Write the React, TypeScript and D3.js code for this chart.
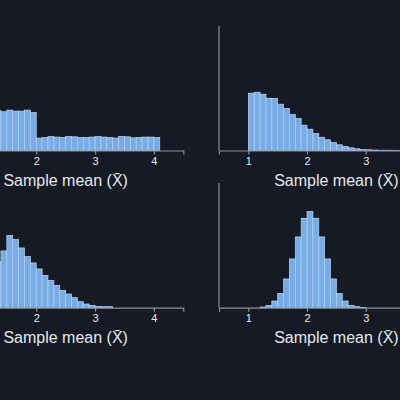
import React, { useEffect, useRef } from 'react';
import * as d3 from 'd3';

// ---- data ----
const binWidth = 0.1;
const xDomain = [0.5, 4.5];
const xTicks = [1, 2, 3, 4];
const xLabel = 'Sample mean (X\u0304)';

// top-left panel
const tlStart = 1.0;
const tlCounts = [589, 596, 581, 596, 577, 602, 587, 587, 602, 566,
  185, 194, 209, 200, 194, 209, 204, 194, 194, 200, 209, 200, 194, 185, 209, 204, 189, 194, 200, 200, 194];
const tlYMax = 1855;

// top-right panel
const trStart = 1.0;
const trCounts = [1049, 1067, 1030, 957, 952, 847, 769, 659, 586, 463, 390, 311, 243, 196, 146, 104, 73, 49, 31, 18, 13, 9, 5, 5, 4, 2, 2];
const trYMax = 2278;

// bottom-left panel
const blStart = 1.0;
const blCounts = [64, 224, 480, 736, 907, 1152, 1093, 955, 816, 715, 619, 517, 437, 357, 277, 219, 160, 96, 59, 37, 21, 16, 16];
const blYMax = 1992;

// bottom-right panel
const brStart = 1.2;
const brCounts = [11, 37, 107, 229, 459, 779, 1131, 1429, 1536, 1429, 1131, 779, 459, 229, 107, 37, 16, 5];
const brYMax = 1992;

// ---- layout ----
const W = 400, H = 400;
const colRanges = [[-52, 183.3], [219, 453.8]];
const rowRanges = [[26, 150.5], [183, 307.7]];
const BG = '#151a25';
const BAR = '#78ace6';
const BAR_STROKE = '#b9d6f5';
const AXIS = '#8b9099';
const TEXT = '#e6e8ec';

export default function App() {
  const ref = useRef<SVGSVGElement>(null);

  useEffect(() => {
    const svg = d3.select(ref.current);
    svg.selectAll('*').remove();
    svg.append('rect').attr('width', W).attr('height', H).attr('fill', BG);

    const panels = [
      { start: tlStart, counts: tlCounts, yMax: tlYMax },
      { start: trStart, counts: trCounts, yMax: trYMax },
      { start: blStart, counts: blCounts, yMax: blYMax },
      { start: brStart, counts: brCounts, yMax: brYMax },
    ];

    panels.forEach((p, i) => {
      const col = i % 2, row = Math.floor(i / 2);
      const x = d3.scaleLinear().domain(xDomain).range(colRanges[col]);
      const y = d3.scaleLinear().domain([0, p.yMax]).range([rowRanges[row][1], rowRanges[row][0]]);
      const g = svg.append('g');

      const bins = p.counts.map((c, k) => ({
        x0: p.start + k * binWidth,
        x1: p.start + (k + 1) * binWidth,
        c,
      }));

      g.selectAll('rect.bar')
        .data(bins)
        .join('rect')
        .attr('class', 'bar')
        .attr('x', (d) => x(d.x0))
        .attr('width', (d) => x(d.x1) - x(d.x0))
        .attr('y', (d) => y(d.c))
        .attr('height', (d) => y(0) - y(d.c))
        .attr('fill', BAR)
        .attr('stroke', BAR_STROKE)
        .attr('stroke-width', 0.7);

      // y axis line (no ticks)
      g.append('line')
        .attr('x1', x(xDomain[0])).attr('x2', x(xDomain[0]))
        .attr('y1', y(p.yMax)).attr('y2', y(0))
        .attr('stroke', AXIS).attr('stroke-width', 1.2);

      const ax = g.append('g')
        .attr('transform', `translate(0,${y(0)})`)
        .call(d3.axisBottom(x).tickValues(xTicks).tickSize(4).tickSizeOuter(4).tickFormat(d3.format('d')));
      ax.select('.domain').attr('stroke', AXIS).attr('stroke-width', 1.2);
      ax.selectAll('.tick line').attr('stroke', AXIS).attr('stroke-width', 1.2);
      ax.selectAll('.tick text')
        .attr('fill', TEXT)
        .attr('font-size', 11)
        .attr('font-family', 'Liberation Sans, Arial, sans-serif');

      g.append('text')
        .attr('x', (colRanges[col][0] + colRanges[col][1]) / 2)
        .attr('y', y(0) + 35.5)
        .attr('text-anchor', 'middle')
        .attr('font-size', 16)
        .attr('font-family', 'Liberation Sans, Arial, sans-serif')
        .attr('fill', TEXT)
        .text(xLabel);
    });
  }, []);

  return (
    <svg
      ref={ref}
      width={W}
      height={H}
      style={{ position: 'absolute', left: 0, top: 0, display: 'block' }}
    />
  );
}
